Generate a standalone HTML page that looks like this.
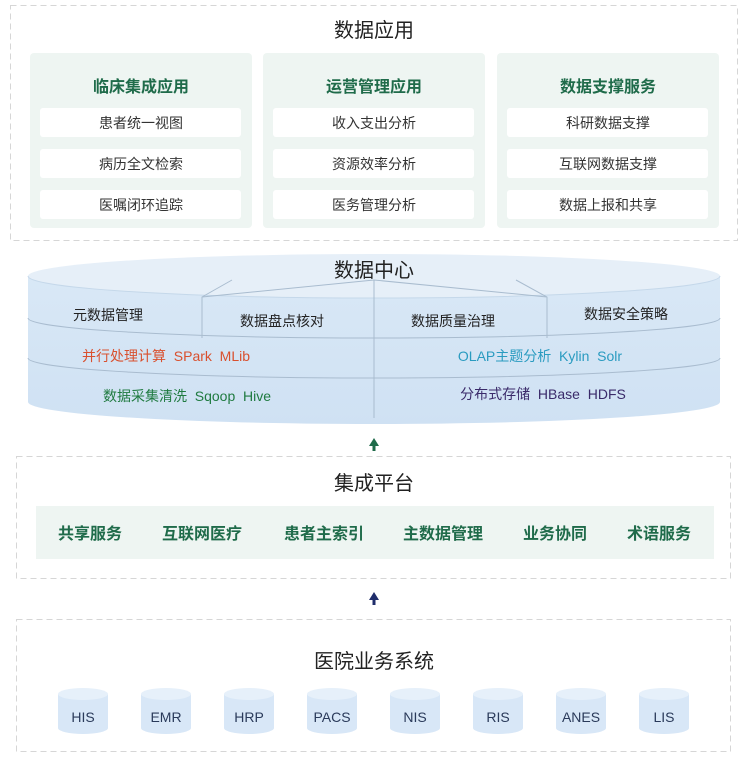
<!DOCTYPE html>
<html><head><meta charset="utf-8"><style>
html,body{margin:0;padding:0;background:#fff;}
svg text{font-family:"Liberation Sans","Noto Sans CJK SC",sans-serif;}
</style></head><body>
<svg width="749" height="768" viewBox="0 0 749 768" xmlns="http://www.w3.org/2000/svg">
<defs>
<linearGradient id="cyl" x1="0" y1="0" x2="0" y2="1">
<stop offset="0" stop-color="#d9e8f6"/><stop offset="1" stop-color="#cfe1f3"/>
</linearGradient>
</defs>
<!-- Top box -->
<rect x="10.5" y="5.5" width="727" height="235" fill="none" stroke="#d6d6d6" stroke-dasharray="6,4"/>
<text x="374" y="37" font-size="20" text-anchor="middle" fill="#222">数据应用</text>
<g font-size="14" text-anchor="middle" fill="#333">
<rect x="30" y="53" width="222" height="175" rx="4" fill="#eef5f2"/>
<rect x="263" y="53" width="222" height="175" rx="4" fill="#eef5f2"/>
<rect x="497" y="53" width="222" height="175" rx="4" fill="#eef5f2"/>
<text x="141" y="92" font-size="16" font-weight="bold" fill="#1f6b4a">临床集成应用</text>
<text x="374" y="92" font-size="16" font-weight="bold" fill="#1f6b4a">运营管理应用</text>
<text x="608" y="92" font-size="16" font-weight="bold" fill="#1f6b4a">数据支撑服务</text>
<rect x="40" y="108" width="201" height="29" rx="3" fill="#fff"/>
<rect x="40" y="149" width="201" height="29" rx="3" fill="#fff"/>
<rect x="40" y="190" width="201" height="29" rx="3" fill="#fff"/>
<rect x="273" y="108" width="201" height="29" rx="3" fill="#fff"/>
<rect x="273" y="149" width="201" height="29" rx="3" fill="#fff"/>
<rect x="273" y="190" width="201" height="29" rx="3" fill="#fff"/>
<rect x="507" y="108" width="201" height="29" rx="3" fill="#fff"/>
<rect x="507" y="149" width="201" height="29" rx="3" fill="#fff"/>
<rect x="507" y="190" width="201" height="29" rx="3" fill="#fff"/>
<text x="141" y="128">患者统一视图</text>
<text x="141" y="169">病历全文检索</text>
<text x="141" y="210">医嘱闭环追踪</text>
<text x="374" y="128">收入支出分析</text>
<text x="374" y="169">资源效率分析</text>
<text x="374" y="210">医务管理分析</text>
<text x="608" y="128">科研数据支撑</text>
<text x="608" y="169">互联网数据支撑</text>
<text x="608" y="210">数据上报和共享</text>
</g>
<!-- Data center cylinder -->
<path d="M28,276 L28,402 A346,22 0 0 0 720,402 L720,276 Z" fill="url(#cyl)"/>
<ellipse cx="374" cy="276" rx="346" ry="22" fill="#e6eff8"/>
<path d="M28,276 A346,22 0 0 0 720,276" fill="none" stroke="#c5d8ea"/>
<path d="M28,318 A346,20 0 0 0 720,318" fill="none" stroke="#a9bccf"/>
<path d="M28,358 A346,20 0 0 0 720,358" fill="none" stroke="#a9bccf"/>
<line x1="374" y1="280" x2="374" y2="418" stroke="#a9bccf"/>
<path d="M232,280 L202,297 L202,338 M516,280 L547,297 L547,338 M202,297 L374,280 L547,297" fill="none" stroke="#a9bccf"/>
<text x="374" y="277" font-size="20" text-anchor="middle" fill="#222">数据中心</text>
<g font-size="14" text-anchor="middle">
<text x="108" y="320" fill="#222">元数据管理</text>
<text x="282" y="326" fill="#222">数据盘点核对</text>
<text x="453" y="326" fill="#222">数据质量治理</text>
<text x="626" y="319" fill="#222">数据安全策略</text>
<text x="166" y="361" fill="#d9502e">并行处理计算 &#160;SPark &#160;MLib</text>
<text x="540" y="361" fill="#2a9bc0">OLAP主题分析 &#160;Kylin &#160;Solr</text>
<text x="187" y="401" fill="#1f7a40">数据采集清洗 &#160;Sqoop &#160;Hive</text>
<text x="543" y="399" fill="#3a2a6a">分布式存储 &#160;HBase &#160;HDFS</text>
</g>
<!-- arrow 1 -->
<path d="M374,438 L369,446 L372.5,446 L372.5,451 L375.5,451 L375.5,446 L379,446 Z" fill="#1f6b4a"/>
<!-- Integration -->
<rect x="16.5" y="456.5" width="714" height="122" fill="none" stroke="#d6d6d6" stroke-dasharray="6,4"/>
<text x="374" y="490" font-size="20" text-anchor="middle" fill="#222">集成平台</text>
<rect x="36" y="506" width="678" height="53" fill="#eef5f2"/>
<g font-size="16" font-weight="bold" text-anchor="middle" fill="#1f6b4a">
<text x="90" y="539">共享服务</text>
<text x="202" y="539">互联网医疗</text>
<text x="324" y="539">患者主索引</text>
<text x="443" y="539">主数据管理</text>
<text x="555" y="539">业务协同</text>
<text x="659" y="539">术语服务</text>
</g>
<path d="M374,592 L369,600 L372.5,600 L372.5,605 L375.5,605 L375.5,600 L379,600 Z" fill="#1f2d6b"/>
<!-- Hospital -->
<rect x="16.5" y="619.5" width="714" height="132" fill="none" stroke="#d6d6d6" stroke-dasharray="6,4"/>
<text x="374" y="668" font-size="20" text-anchor="middle" fill="#222">医院业务系统</text>
<g font-size="14" text-anchor="middle" fill="#2a3a5a">
<g id="c">
</g>
</g>
<g font-size="14" text-anchor="middle" fill="#2a3a5a">
<path d="M58,694 L58,728 A25,6 0 0 0 108,728 L108,694 Z" fill="#d8e7f7"/><ellipse cx="83" cy="694" rx="25" ry="6" fill="#e6f0fa"/><text x="83" y="722">HIS</text>
<path d="M141,694 L141,728 A25,6 0 0 0 191,728 L191,694 Z" fill="#d8e7f7"/><ellipse cx="166" cy="694" rx="25" ry="6" fill="#e6f0fa"/><text x="166" y="722">EMR</text>
<path d="M224,694 L224,728 A25,6 0 0 0 274,728 L274,694 Z" fill="#d8e7f7"/><ellipse cx="249" cy="694" rx="25" ry="6" fill="#e6f0fa"/><text x="249" y="722">HRP</text>
<path d="M307,694 L307,728 A25,6 0 0 0 357,728 L357,694 Z" fill="#d8e7f7"/><ellipse cx="332" cy="694" rx="25" ry="6" fill="#e6f0fa"/><text x="332" y="722">PACS</text>
<path d="M390,694 L390,728 A25,6 0 0 0 440,728 L440,694 Z" fill="#d8e7f7"/><ellipse cx="415" cy="694" rx="25" ry="6" fill="#e6f0fa"/><text x="415" y="722">NIS</text>
<path d="M473,694 L473,728 A25,6 0 0 0 523,728 L523,694 Z" fill="#d8e7f7"/><ellipse cx="498" cy="694" rx="25" ry="6" fill="#e6f0fa"/><text x="498" y="722">RIS</text>
<path d="M556,694 L556,728 A25,6 0 0 0 606,728 L606,694 Z" fill="#d8e7f7"/><ellipse cx="581" cy="694" rx="25" ry="6" fill="#e6f0fa"/><text x="581" y="722">ANES</text>
<path d="M639,694 L639,728 A25,6 0 0 0 689,728 L689,694 Z" fill="#d8e7f7"/><ellipse cx="664" cy="694" rx="25" ry="6" fill="#e6f0fa"/><text x="664" y="722">LIS</text>
</g>
</svg>
</body></html>
